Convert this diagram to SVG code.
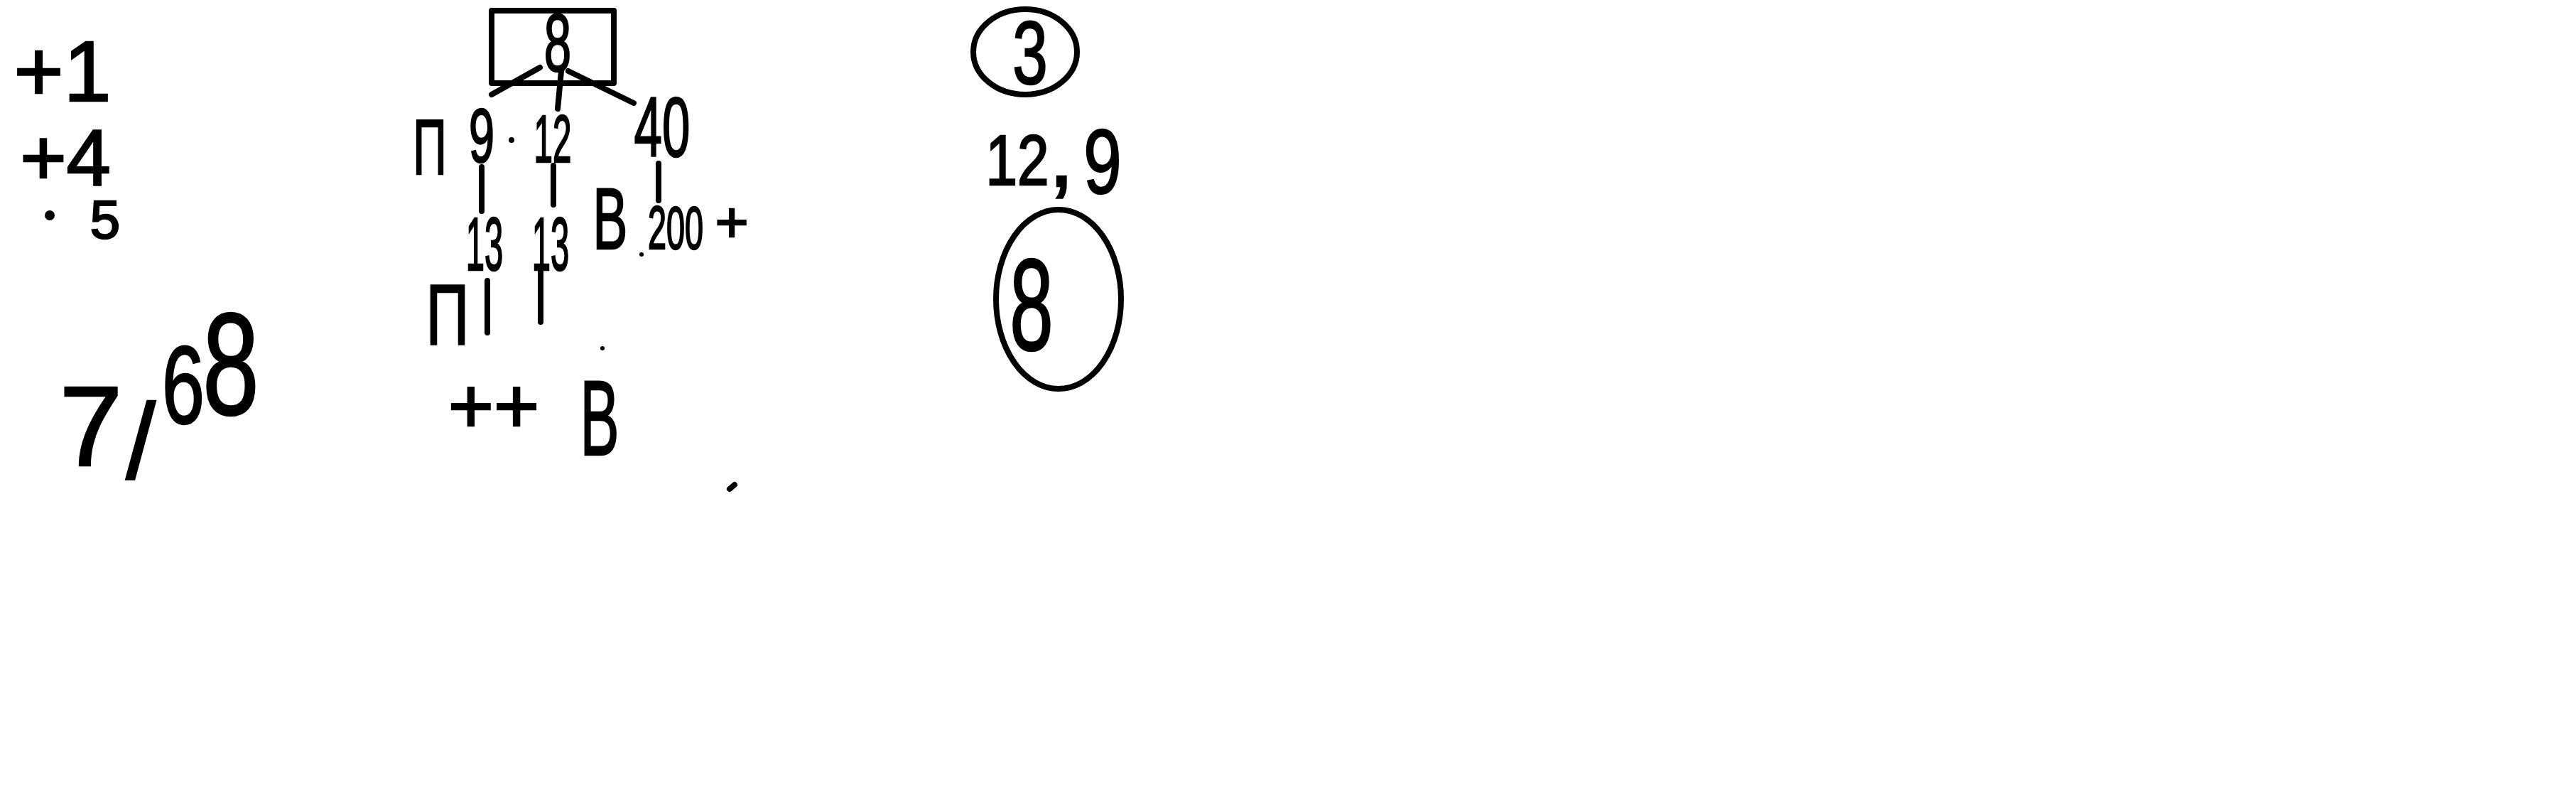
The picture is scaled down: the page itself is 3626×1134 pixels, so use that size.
<svg xmlns="http://www.w3.org/2000/svg" width="3626" height="1134" viewBox="0 0 3626 1134">
<style>
text{font-family:"Liberation Sans","DejaVu Sans",sans-serif;fill:#000;stroke:#000;stroke-width:2.5;text-anchor:middle}
.s{fill:none;stroke:#000;stroke-width:8;stroke-linecap:round;stroke-linejoin:round}
</style>
<rect width="3626" height="1134" fill="#fff"/>
<g id="notes-left">
<text x="88" y="142" font-size="120">+1</text>
<text x="92" y="260" font-size="112">+4</text>
<circle cx="70" cy="303" r="7"/>
<text x="148" y="335" font-size="76">5</text>
</g>
<g id="fraction">
<text x="128" y="655" font-size="160">7</text>
<text x="198" y="673" font-size="150">/</text>
<text x="258" y="595" font-size="155" transform="translate(258 0) scale(0.7 1) translate(-258 0)">6</text>
<text x="325" y="583" font-size="205" transform="translate(325 0) scale(0.7 1) translate(-325 0)">8</text>
</g>
<g id="root">
<rect class="s" x="692" y="15" width="172" height="102"/>
<text x="785" y="100" font-size="115" transform="translate(785 0) scale(0.6 1) translate(-785 0)">8</text>
</g>
<g id="connectors">
<path class="s" d="M760,95 L692,133"/>
<path class="s" d="M790,100 L785,153"/>
<path class="s" d="M800,100 L892,145"/>
<path class="s" d="M678,235 L678,297"/>
<path class="s" d="M779,233 L779,288"/>
<path class="s" d="M927,230 L927,282"/>
<path class="s" d="M686,395 L686,468"/>
<path class="s" d="M761,380 L761,453"/>
</g>
<g id="pe-1"><text x="605" y="245" font-size="110" transform="translate(605 0) scale(0.6 1) translate(-605 0)">П</text></g>
<g id="n9"><text x="678" y="228" font-size="108" transform="translate(678 0) scale(0.6 1) translate(-678 0)">9</text></g>
<g id="dot-1"><circle cx="720" cy="197" r="4"/></g>
<g id="n12"><text x="778" y="228" font-size="95" transform="translate(778 0) scale(0.5 1) translate(-778 0)">12</text></g>
<g id="n40"><text x="932" y="220" font-size="118" transform="translate(932 0) scale(0.6 1) translate(-932 0)">40</text></g>
<g id="n13a"><text x="682" y="380" font-size="105" transform="translate(682 0) scale(0.45 1) translate(-682 0)">13</text></g>
<g id="n13b"><text x="775" y="380" font-size="105" transform="translate(775 0) scale(0.45 1) translate(-775 0)">13</text></g>
<g id="b-1"><text x="859" y="350" font-size="122" transform="translate(859 0) scale(0.6 1) translate(-859 0)">B</text><circle cx="862" cy="303" r="3"/></g>
<g id="n200"><circle cx="903" cy="358" r="3"/><text x="951" y="350" font-size="85" transform="translate(951 0) scale(0.55 1) translate(-951 0)">200</text><text x="1030" y="340" font-size="80">+</text></g>
<g id="pe-2"><text x="630" y="485" font-size="120" transform="translate(630 0) scale(0.7 1) translate(-630 0)">П</text></g>
<g id="dot-2"><circle cx="848" cy="490" r="3"/></g>
<g id="plusplus"><text x="695" y="609" font-size="110">++</text></g>
<g id="b-2"><text x="844" y="640" font-size="150" transform="translate(844 0) scale(0.55 1) translate(-844 0)">B</text></g>
<g id="dot-3"><path class="s" d="M1034,682 L1027,688"/></g>
<g id="circle-3">
<ellipse class="s" cx="1443" cy="73" rx="73" ry="60"/>
<text x="1450" y="118" font-size="127" transform="translate(1450 0) scale(0.7 1) translate(-1450 0)">3</text>
</g>
<g id="n12-9">
<text x="1432" y="260" font-size="100" transform="translate(1432 0) scale(0.8 1) translate(-1432 0)">12</text>
<text x="1494" y="262" font-size="130">,</text>
<text x="1552" y="272" font-size="128" transform="translate(1552 0) scale(0.75 1) translate(-1552 0)">9</text>
</g>
<g id="circle-8">
<ellipse class="s" cx="1490" cy="421" rx="88" ry="126"/>
<text x="1452" y="492" font-size="184" transform="translate(1452 0) scale(0.6 1) translate(-1452 0)">8</text>
</g>
</svg>
